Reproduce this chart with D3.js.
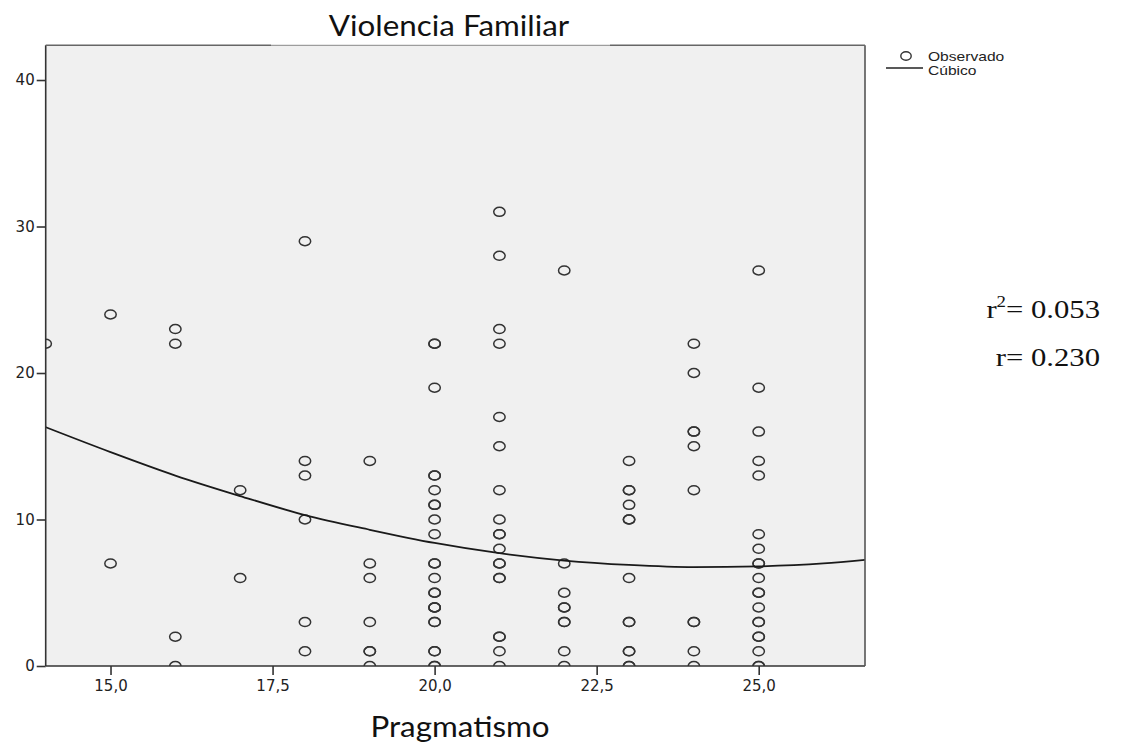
<!DOCTYPE html>
<html><head><meta charset="utf-8">
<script src="https://cdn.jsdelivr.net/npm/d3@7"></script>
<style>
html,body{margin:0;padding:0;background:#fff;}
svg{display:block;}
</style></head>
<body>
<svg id="chart" width="1134" height="754"></svg>
<script>
// ---- data ----
const pragmatismo = [14, 15, 16, 17, 18, 19, 20, 21, 22, 23, 24, 25];
const violencia = [
  [22],
  [24, 7],
  [23, 22, 2, 0],
  [12, 6],
  [29, 14, 13, 10, 3, 1],
  [14, 7, 6, 3, 1, 1, 0],
  [22, 22, 19, 13, 13, 12, 11, 11, 10, 9, 7, 7, 6, 5, 5, 4, 4, 4, 3, 3, 1, 1, 0, 0],
  [31, 28, 23, 22, 17, 15, 12, 10, 9, 9, 8, 7, 7, 6, 6, 2, 2, 1, 0],
  [27, 7, 5, 4, 4, 3, 3, 1, 0],
  [14, 12, 12, 11, 10, 10, 6, 3, 3, 1, 1, 0, 0],
  [22, 20, 16, 16, 15, 12, 3, 3, 1, 0],
  [27, 19, 16, 14, 13, 9, 8, 7, 7, 6, 5, 5, 4, 3, 3, 2, 2, 1, 0, 0]
];
const cubicX = [14, 15, 16, 17, 18, 19, 20, 21, 22, 23, 24, 25, 26, 26.64];
const cubicY = [16.3, 14.6, 13.0, 11.6, 10.3, 9.3, 8.4, 7.7, 7.2, 6.9, 6.75, 6.8, 7.0, 7.25];
const xTicks = [15, 17.5, 20, 22.5, 25];
const yTicks = [0, 10, 20, 30, 40];
const titleText = "Violencia Familiar";
const xLabel = "Pragmatismo";
const legendLabels = ["Observado", "Cúbico"];
const stats = ["0.053", "0.230"];

// ---- layout ----
const L = 45.7, R = 865, T = 45.3, B = 666;
const svg = d3.select("#chart");
const x = d3.scaleLinear().domain([14, 26.64]).range([L, R]);
const y = d3.scaleLinear().domain([0, 42.37]).range([B, T]);
const loc = d3.formatLocale({decimal: ",", thousands: ".", grouping: [3], currency: ["", ""]});
const fx = loc.format(".1f");

svg.append("rect").attr("x", L).attr("y", T).attr("width", R - L).attr("height", B - T).attr("fill", "#f0f0f0");

const defs = svg.append("defs");
defs.append("clipPath").attr("id", "clip").append("rect")
  .attr("x", L).attr("y", T).attr("width", R - L).attr("height", B - T);

// points
const pts = [];
pragmatismo.forEach((p, i) => violencia[i].forEach(v => pts.push({p, v})));
svg.append("g").attr("clip-path", "url(#clip)").selectAll("ellipse").data(pts).enter().append("ellipse")
  .attr("cx", d => x(d.p)).attr("cy", d => y(d.v))
  .attr("rx", 5.7).attr("ry", 4.5)
  .attr("fill", "none").attr("stroke", "#333").attr("stroke-width", 1.5);

// cubic line
const lineData = cubicX.map((cx, i) => [cx, cubicY[i]]);
svg.append("path").attr("clip-path", "url(#clip)")
  .attr("d", d3.line().x(d => x(d[0])).y(d => y(d[1])).curve(d3.curveMonotoneX)(lineData))
  .attr("fill", "none").attr("stroke", "#1a1a1a").attr("stroke-width", 1.8);

// frame
const fr = svg.append("g").attr("stroke-width", 1.6).attr("fill", "none");
fr.append("line").attr("x1", L).attr("y1", T).attr("x2", L).attr("y2", B).attr("stroke", "#333");
fr.append("line").attr("x1", L).attr("y1", B).attr("x2", R).attr("y2", B).attr("stroke", "#333");
fr.append("line").attr("x1", R).attr("y1", T).attr("x2", R).attr("y2", B).attr("stroke", "#555");
fr.append("line").attr("x1", L).attr("y1", T).attr("x2", 271).attr("y2", T).attr("stroke", "#666");
fr.append("line").attr("x1", 271).attr("y1", T).attr("x2", 610).attr("y2", T).attr("stroke", "#888").attr("stroke-width", 1);
fr.append("line").attr("x1", 610).attr("y1", T).attr("x2", R).attr("y2", T).attr("stroke", "#666");

// axes
const xAxis = svg.append("g").attr("transform", `translate(0,${B})`)
  .call(d3.axisBottom(x).tickValues(xTicks).tickFormat(fx).tickSize(9).tickPadding(5));
const yAxis = svg.append("g").attr("transform", `translate(${L},0)`)
  .call(d3.axisLeft(y).tickValues(yTicks).tickFormat(d3.format("d")).tickSize(9).tickPadding(2));
[xAxis, yAxis].forEach(a => {
  a.select(".domain").remove();
  a.selectAll(".tick line").attr("stroke", "#333").attr("stroke-width", 1.6);
  a.selectAll(".tick text").attr("fill", "#222").style("font-family", "'DejaVu Sans', sans-serif").style("font-size", "15px");
});

// title & axis label
function stretched(g, tx, ty, sx, txt, family, size, anchor) {
  return g.append("text").attr("transform", `translate(${tx},${ty}) scale(${sx},1)`)
    .attr("text-anchor", anchor).style("font-family", family).style("font-size", size + "px").attr("fill", "#111").text(txt);
}
stretched(svg, 449, 36, 1.12, titleText, "Lato, 'Open Sans', sans-serif", 28, "middle");
stretched(svg, 460, 737, 1.12, xLabel, "Lato, 'Open Sans', sans-serif", 28, "middle");

// legend
const lg = svg.append("g");
lg.append("ellipse").attr("cx", 906).attr("cy", 56).attr("rx", 5.2).attr("ry", 4.2).attr("fill", "none").attr("stroke", "#333").attr("stroke-width", 1.4);
stretched(lg, 928, 60.5, 1.3, legendLabels[0], "'Liberation Sans', Arial, sans-serif", 12, "start").attr("fill", "#222");
lg.append("line").attr("x1", 886).attr("x2", 923).attr("y1", 68).attr("y2", 68).attr("stroke", "#222").attr("stroke-width", 1.6);
stretched(lg, 928, 74.5, 1.3, legendLabels[1], "'Liberation Sans', Arial, sans-serif", 12, "start").attr("fill", "#222");

// stats
const st = svg.append("g").style("font-family", "'Liberation Serif', 'Times New Roman', serif").attr("fill", "#111");
const t1 = st.append("text").attr("transform", "translate(1100,318) scale(1.18,1)").attr("text-anchor", "end").style("font-size", "26px");
t1.append("tspan").text("r");
t1.append("tspan").attr("dy", -11).style("font-size", "16px").text("2");
t1.append("tspan").attr("dy", 11).text("= " + stats[0]);
st.append("text").attr("transform", "translate(1100,366) scale(1.18,1)").attr("text-anchor", "end").style("font-size", "26px").text("r= " + stats[1]);
</script>
</body></html>
